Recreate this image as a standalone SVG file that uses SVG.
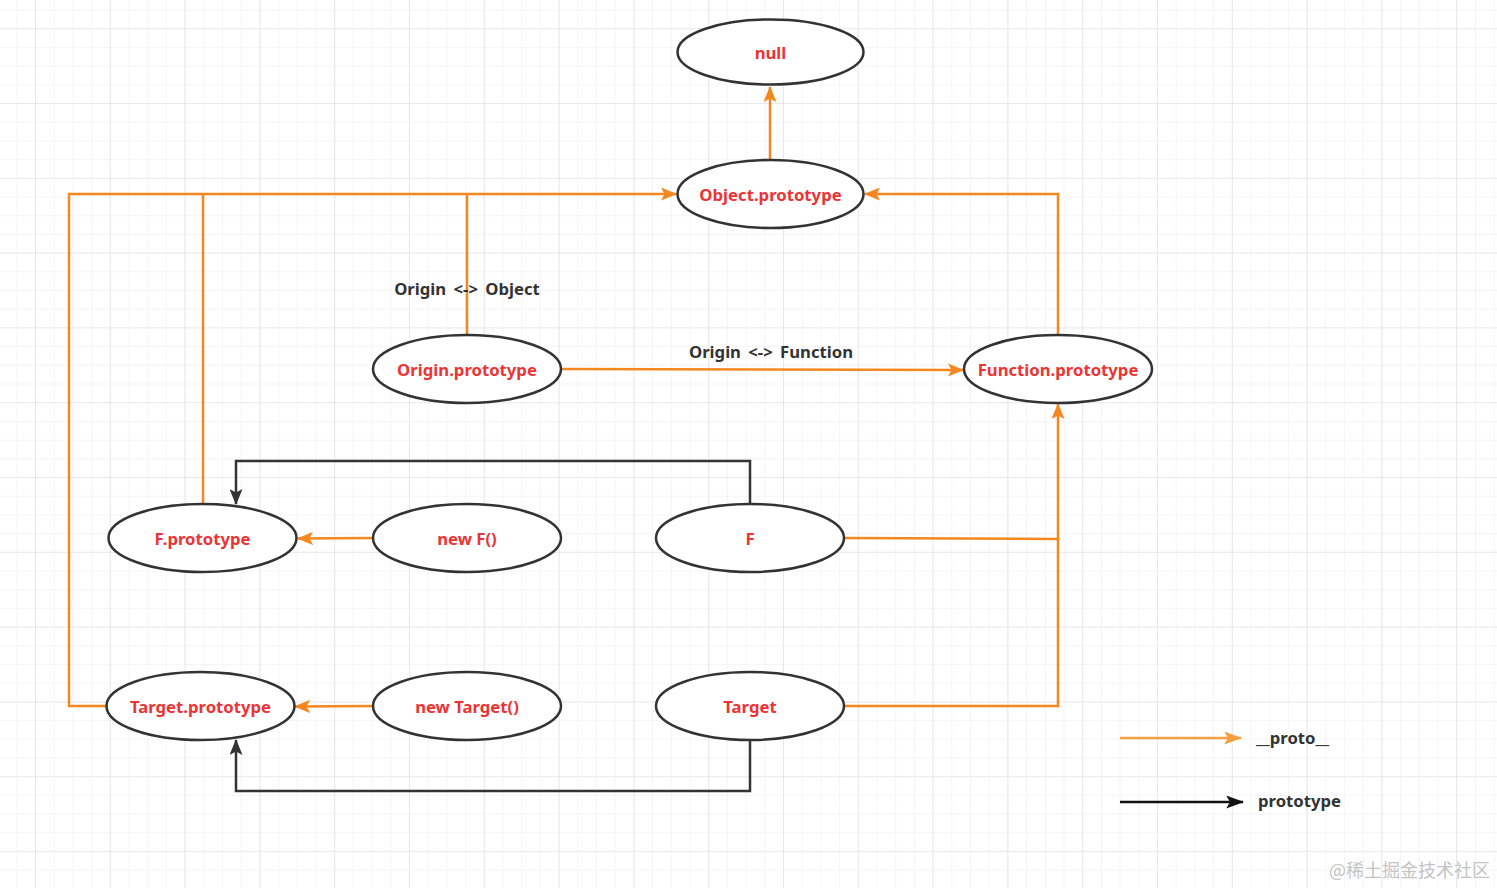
<svg xmlns="http://www.w3.org/2000/svg" width="1497" height="888" viewBox="0 0 1497 888">
<style>
.node ellipse{fill:#fff;stroke:#333;stroke-width:2.5}
.node text{font-family:"Noto Sans","Liberation Sans",sans-serif;font-weight:bold;font-size:16.7px;fill:#ec3434;text-anchor:middle;dominant-baseline:central}
.o{fill:none;stroke:#f5871f;stroke-width:2.5}
.k{fill:none;stroke:#333;stroke-width:2.5}
.lbl{font-family:"Noto Sans","Liberation Sans",sans-serif;font-weight:bold;font-size:16.7px;fill:#333}
</style>
<defs>
<pattern id="minor" x="-39.8" y="28.2" width="18.7" height="18.7" patternUnits="userSpaceOnUse">
<path d="M0,0 V18.7 M0,0 H18.7" stroke="#ececec" stroke-width="1" fill="none"/>
</pattern>
<pattern id="major" x="-39.8" y="28.2" width="74.8" height="74.8" patternUnits="userSpaceOnUse">
<path d="M0,0 V74.8 M0,0 H74.8" stroke="#dedede" stroke-width="1.2" fill="none"/>
</pattern>
<marker id="ao" viewBox="0 0 16 13" refX="15" refY="6.5" markerWidth="16" markerHeight="13" markerUnits="userSpaceOnUse" orient="auto">
<path d="M0,0 L16,6.5 L0,13 L3.5,6.5 z" fill="#f5871f"/>
</marker>
<marker id="ak" viewBox="0 0 16 13" refX="15" refY="6.5" markerWidth="16" markerHeight="13" markerUnits="userSpaceOnUse" orient="auto">
<path d="M0,0 L16,6.5 L0,13 L3.5,6.5 z" fill="#333"/>
</marker>
<marker id="al" viewBox="0 0 16 13" refX="15" refY="6.5" markerWidth="18" markerHeight="13" markerUnits="userSpaceOnUse" orient="auto" preserveAspectRatio="none">
<path d="M0,0 L16,6.5 L0,13 L3.5,6.5 z" fill="#111"/>
</marker>
<marker id="alo" viewBox="0 0 16 13" refX="15" refY="6.5" markerWidth="18" markerHeight="13" markerUnits="userSpaceOnUse" orient="auto" preserveAspectRatio="none">
<path d="M0,0 L16,6.5 L0,13 L3.5,6.5 z" fill="#f5a040"/>
</marker>
</defs>
<rect width="1497" height="888" fill="#fff"/>
<rect width="1497" height="888" fill="url(#minor)"/>
<rect width="1497" height="888" fill="url(#major)"/>

<g id="connectors">
<path class="o" d="M770,160 V87" marker-end="url(#ao)"/>
<path class="o" d="M106,706 H69 V194 H676" marker-end="url(#ao)"/>
<path class="o" d="M203,504 V194"/>
<path class="o" d="M467,335 V194"/>
<path class="o" d="M1058,335 V194 H865" marker-end="url(#ao)"/>
<path class="o" d="M561,369 L963,370" marker-end="url(#ao)"/>
<path class="o" d="M844,538 L1058,539 V404" marker-end="url(#ao)"/>
<path class="o" d="M844,706 H1058 V539"/>
<path class="o" d="M373,538 L298,538.5" marker-end="url(#ao)"/>
<path class="o" d="M373,706 L295,706.5" marker-end="url(#ao)"/>
<path class="k" d="M750,504 V461 H236 V504" marker-end="url(#ak)"/>
<path class="k" d="M750,740 V791 H236 V740" marker-end="url(#ak)"/>
<text class="lbl" x="467" y="295" text-anchor="middle" word-spacing="3">Origin &lt;-&gt; Object</text>
<text class="lbl" x="771" y="358" text-anchor="middle" word-spacing="3">Origin &lt;-&gt; Function</text>
</g>

<g id="node-null" class="node"><ellipse cx="770.5" cy="52" rx="93" ry="32.5"/><text x="770.5" y="52">null</text></g>
<g id="node-object-prototype" class="node"><ellipse cx="770.5" cy="194" rx="93" ry="34"/><text x="770.5" y="194">Object.prototype</text></g>
<g id="node-origin-prototype" class="node"><ellipse cx="467" cy="369" rx="94" ry="34"/><text x="467" y="369">Origin.prototype</text></g>
<g id="node-function-prototype" class="node"><ellipse cx="1058" cy="369" rx="94" ry="34"/><text x="1058" y="369">Function.prototype</text></g>
<g id="node-f-prototype" class="node"><ellipse cx="202.5" cy="538" rx="94" ry="34"/><text x="202.5" y="538">F.prototype</text></g>
<g id="node-new-f" class="node"><ellipse cx="467" cy="538" rx="94" ry="34"/><text x="467" y="538">new F()</text></g>
<g id="node-f" class="node"><ellipse cx="750" cy="538" rx="94" ry="34"/><text x="750" y="538">F</text></g>
<g id="node-target-prototype" class="node"><ellipse cx="200.5" cy="706" rx="94" ry="34"/><text x="200.5" y="706">Target.prototype</text></g>
<g id="node-new-target" class="node"><ellipse cx="467" cy="706" rx="94" ry="34"/><text x="467" y="706">new Target()</text></g>
<g id="node-target" class="node"><ellipse cx="750" cy="706" rx="94" ry="34"/><text x="750" y="706">Target</text></g>

<g id="legend">
<path d="M1120,738 H1241" stroke="#f5a040" stroke-width="2.5" fill="none" marker-end="url(#alo)"/>
<text class="lbl" x="1256" y="744">__proto__</text>
<path d="M1120,802 H1243" stroke="#111" stroke-width="2.5" fill="none" marker-end="url(#al)"/>
<text class="lbl" x="1258" y="807">prototype</text>
</g>
<text x="1490" y="877" text-anchor="end" font-family="'Noto Sans CJK SC',sans-serif" font-size="18" fill="#c4c4c4">@稀土掘金技术社区</text>
</svg>
